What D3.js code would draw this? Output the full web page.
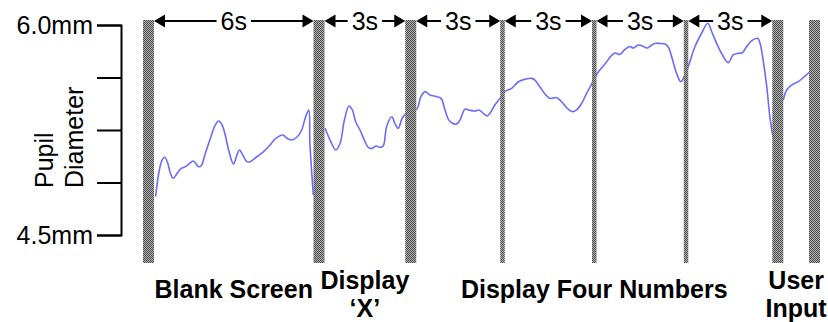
<!DOCTYPE html>
<html>
<head>
<meta charset="utf-8">
<script src="https://cdn.jsdelivr.net/npm/d3@7/dist/d3.min.js"></script>
<style>
  html, body { margin: 0; padding: 0; background: #fff; }
  svg { display: block; }
  text { font-family: "Liberation Sans", Arial, sans-serif; fill: #000; }
</style>
</head>
<body>
<svg id="chart" width="828" height="322"></svg>
<script>
// Trial timeline markers (seconds) and the kind of boundary each one marks
const markerTimes = [0, 6, 9, 12, 15, 18, 21, 22.2];
const markerKinds = ["phase", "phase", "phase", "step", "step", "step", "phase", "phase"];

// Durations written above the timeline, one per gap between markers 0..6
const intervalLabels = ["6s", "3s", "3s", "3s", "3s", "3s"];

// Phases shown along the bottom
const phaseNames = [["Blank Screen"], ["Display", "\u2018X\u2019"], ["Display Four Numbers"], ["User", "Input"]];
const phaseStart = [0, 6, 9, 21];
const phaseEnd = [6, 9, 21, 22.2];

// Pupil axis
const yTicks = [4.5, 4.875, 5.25, 5.625, 6.0];
const yTickLabels = ["4.5mm", "", "", "", "6.0mm"];
const yLabelLines = ["Pupil", "Diameter"];

// Pupil diameter trace (null = recording gap)
const pupilTime = [
  0.25, 0.36, 0.48, 0.57, 0.68, 0.77, 0.87, 1.01, 1.15, 1.30, 1.45, 1.57, 1.65, 1.76, 1.85,
  2.00, 2.18, 2.35, 2.47, 2.59, 2.70, 2.82, 2.99, 3.11, 3.20, 3.32, 3.46, 3.58, 3.81, 4.05,
  4.28, 4.46, 4.73, 4.87, 5.04, 5.22, 5.39, 5.53, 5.64, 5.68, 5.80,
  null,
  6.20, 6.36, 6.55, 6.69, 6.83, 6.98, 7.09, 7.20, 7.34, 7.48, 7.61, 7.74, 7.86, 7.99, 8.10,
  8.21, 8.38, 8.48, 8.59, 8.72, 8.87, 9.19, 9.33, 9.47, 9.63, 9.85, 9.99, 10.12, 10.23,
  10.36, 10.50, 10.61, 10.77, 10.90, 11.10, 11.23, 11.37, 11.49, 11.59, 11.75, 11.92, 12.08,
  12.30, 12.52, 12.73, 12.95, 13.06, 13.22, 13.39, 13.55, 13.77, 13.93, 14.10, 14.28, 14.42,
  14.59, 14.75, 14.97, 15.13, 15.35, 15.55, 15.68, 15.84, 16.00, 16.17, 16.27, 16.44, 16.57,
  16.73, 16.88, 16.98, 17.15, 17.31, 17.42, 17.53, 17.69, 17.83, 17.94, 18.07, 18.29, 18.51,
  18.71, 18.84, 19.00, 19.16, 19.38, 19.54, 19.71, 19.84, 19.98, 20.15, 20.34, 20.42, 20.52,
  20.64, 20.74, 20.85,
  null,
  21.18, 21.29, 21.45, 21.67, 21.87, 22.05
];
const pupilMm = [
  4.774, 4.941, 5.036, 5.055, 5.012, 4.941, 4.905, 4.941, 4.976, 4.988, 5.012, 5.029, 5.016, 4.988, 4.993,
  5.084, 5.191, 5.286, 5.314, 5.286, 5.214, 5.107, 5.007, 5.071, 5.107, 5.071, 5.024, 5.024, 5.059, 5.095,
  5.143, 5.186, 5.214, 5.191, 5.179, 5.198, 5.250, 5.345, 5.393, 5.155, 4.786,
  null,
  5.262, 5.179, 5.107, 5.155, 5.321, 5.421, 5.393, 5.309, 5.250, 5.179, 5.126, 5.119, 5.136, 5.126, 5.136,
  5.274, 5.345, 5.298, 5.262, 5.334, 5.374, 5.398, 5.488, 5.524, 5.500, 5.488, 5.476, 5.393, 5.326,
  5.298, 5.293, 5.321, 5.398, 5.393, 5.386, 5.393, 5.369, 5.350, 5.369, 5.429, 5.476, 5.524,
  5.548, 5.595, 5.612, 5.619, 5.607, 5.559, 5.507, 5.476, 5.481, 5.452, 5.409, 5.381, 5.393,
  5.441, 5.512, 5.600, 5.664, 5.721, 5.779, 5.800, 5.789, 5.825, 5.846, 5.836, 5.857, 5.850,
  5.836, 5.857, 5.868, 5.868, 5.864, 5.843, 5.774, 5.655, 5.595, 5.631, 5.702, 5.845, 5.941,
  6.012, 5.952, 5.869, 5.798, 5.731, 5.786, 5.798, 5.802, 5.845, 5.888, 5.905, 5.869, 5.750,
  5.559, 5.345, 5.191,
  null,
  5.464, 5.536, 5.571, 5.595, 5.631, 5.666
];

// ---- layout ----
const W = 828, H = 322;
const axisX = 121, plotTop = 25, plotBottom = 235;
const timelineStart = 148.5, blankEnd = 319, timelineEnd = 814.5;
const barTop = 20, barBottom = 263;
const arrowY = 21;
const fontSize = 25;

const svg = d3.select("#chart");

// The blank-screen phase is drawn a little compressed relative to the rest
const x = d3.scaleLinear()
  .domain([markerTimes[0], markerTimes[1], markerTimes[markerTimes.length - 1]])
  .range([timelineStart, blankEnd, timelineEnd]);
const y = d3.scaleLinear().domain([4.5, 6.0]).range([plotBottom, plotTop]);

// checkered grey fill for the marker bars
const defs = svg.append("defs");
const pat = defs.append("pattern").attr("id", "checker")
  .attr("patternUnits", "userSpaceOnUse").attr("width", 2).attr("height", 2);
pat.append("rect").attr("width", 2).attr("height", 2).attr("fill", "#b4b4b4");
pat.append("rect").attr("width", 1).attr("height", 1).attr("fill", "#4a4a4a");
pat.append("rect").attr("x", 1).attr("y", 1).attr("width", 1).attr("height", 1).attr("fill", "#4a4a4a");

// ---- y axis ----
const yAxis = d3.axisLeft(y)
  .tickValues(yTicks)
  .tickSizeInner(24).tickSizeOuter(24).tickPadding(4)
  .tickFormat((d, i) => yTickLabels[i]);
const gy = svg.append("g").attr("transform", `translate(${axisX},0)`).call(yAxis);
gy.selectAll("path, line").attr("stroke", "#000").attr("stroke-width", 2);
gy.selectAll("text").style("font-size", fontSize + "px").attr("font-family", "Liberation Sans, Arial, sans-serif");

// rotated axis title, two lines, starting from the bottom
const yLabel = svg.append("text")
  .attr("transform", "translate(53,188) rotate(-90)")
  .attr("text-anchor", "start")
  .style("font-size", fontSize + "px");
yLabel.selectAll("tspan").data(yLabelLines).join("tspan")
  .attr("x", 0).attr("y", (d, i) => i * 30)
  .text(d => d);

// ---- pupil trace ----
const trace = pupilTime.map((t, i) => ({ t, mm: pupilMm[i] }));
const line = d3.line()
  .defined(d => d.t != null && d.mm != null)
  .x(d => x(d.t)).y(d => y(d.mm))
  .curve(d3.curveCatmullRom.alpha(0.5));
svg.append("path").datum(trace)
  .attr("d", line)
  .attr("fill", "none")
  .attr("stroke", "#6b6bff")
  .attr("stroke-width", 1.6)
  .attr("stroke-linejoin", "round");

// ---- marker bars ----
const barW = k => (k === "phase" ? 11 : 4.5);
svg.append("g").selectAll("rect")
  .data(markerTimes.map((t, i) => ({ t, kind: markerKinds[i] })))
  .join("rect")
  .attr("x", d => x(d.t) - barW(d.kind) / 2)
  .attr("y", barTop)
  .attr("width", d => barW(d.kind))
  .attr("height", barBottom - barTop)
  .attr("fill", "url(#checker)");

// ---- interval arrows ----
const arrows = svg.append("g");
const head = 11, halfH = 6.5;
intervalLabels.forEach((lab, i) => {
  const k0 = markerKinds[i], k1 = markerKinds[i + 1];
  const x0 = x(markerTimes[i]) + barW(k0) / 2;
  const x1 = x(markerTimes[i + 1]) - barW(k1) / 2;
  const mid = (x0 + x1) / 2;
  const t = arrows.append("text")
    .attr("x", mid).attr("y", arrowY + 9)
    .attr("text-anchor", "middle")
    .style("font-size", fontSize + "px")
    .text(lab);
  const tw = t.node().getComputedTextLength();
  const gap = 4;
  arrows.append("line").attr("x1", x0 + head - 1).attr("x2", mid - tw / 2 - gap)
    .attr("y1", arrowY).attr("y2", arrowY).attr("stroke", "#000").attr("stroke-width", 2);
  arrows.append("line").attr("x1", mid + tw / 2 + gap).attr("x2", x1 - head + 1)
    .attr("y1", arrowY).attr("y2", arrowY).attr("stroke", "#000").attr("stroke-width", 2);
  arrows.append("path")
    .attr("d", `M${x0},${arrowY}L${x0 + head},${arrowY - halfH}L${x0 + head},${arrowY + halfH}Z`)
    .attr("fill", "#000");
  arrows.append("path")
    .attr("d", `M${x1},${arrowY}L${x1 - head},${arrowY - halfH}L${x1 - head},${arrowY + halfH}Z`)
    .attr("fill", "#000");
});

// ---- phase labels ----
const phases = svg.append("g");
phaseNames.forEach((lines, i) => {
  const cx = (x(phaseStart[i]) + x(phaseEnd[i])) / 2;
  const base = lines.length === 1 ? 298 : 289;
  const t = phases.append("text")
    .attr("text-anchor", "middle")
    .style("font-size", fontSize + "px")
    .style("font-weight", "bold");
  t.selectAll("tspan").data(lines).join("tspan")
    .attr("x", cx).attr("y", (d, j) => base + j * 28)
    .text(d => d);
});
</script>
</body>
</html>
